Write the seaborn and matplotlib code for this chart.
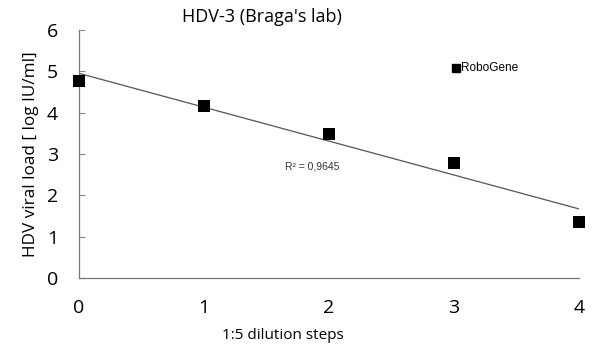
import matplotlib
matplotlib.use("Agg")
import matplotlib.pyplot as plt
import seaborn as sns
import numpy as np
import pandas as pd

steps = [0, 1, 2, 3, 4]
viral_load = [4.77, 4.16, 3.49, 2.78, 1.36]
x_ticks = [0, 1, 2, 3, 4]
y_ticks = [0, 1, 2, 3, 4, 5, 6]
series_name = "RoboGene"
r2_label = "R² = 0,9645"

sns.set_theme(style="white")
plt.rcParams['font.family'] = ['Open Sans', 'DejaVu Sans']
plt.rcParams['text.color'] = 'black'
plt.rcParams['axes.labelcolor'] = 'black'
plt.rcParams['xtick.color'] = 'black'
plt.rcParams['ytick.color'] = 'black'

df = pd.DataFrame({"step": steps, "load": viral_load})

fig = plt.figure(figsize=(6.05, 3.49), dpi=100)
ax = fig.add_axes([0.1306, 0.2034, 0.957 - 0.1306, 0.914 - 0.2034])

sns.regplot(data=df, x="step", y="load", ax=ax, ci=None, marker="s", color="black",
            scatter_kws=dict(s=75, clip_on=False, zorder=3, linewidths=0, alpha=1),
            line_kws=dict(color="#555555", lw=0.9), truncate=True)

ax.set_xlim(0, 4)
ax.set_ylim(0, 6)
ax.set_xticks(x_ticks)
ax.set_yticks(y_ticks)
ax.tick_params(axis='x', length=0, pad=15, labelsize=14)
ax.tick_params(axis='y', direction='in', length=4, width=0.8, color="#888888", pad=15, labelsize=14, left=True)
for s in ["top", "right"]:
    ax.spines[s].set_visible(False)
for s in ["left", "bottom"]:
    ax.spines[s].set_color("#777777")
    ax.spines[s].set_linewidth(0.9)

ax.set_xlabel("1:5 dilution steps", fontsize=11, labelpad=8, x=0.408)
ax.set_ylabel("HDV viral load [ log IU/ml]", fontsize=12.3, labelpad=6)
ax.set_title("HDV-3 (Braga's lab)", fontsize=13, pad=6, x=0.366)

ax.text(0.412, 0.448, r2_label, transform=ax.transAxes, fontsize=7.5,
        family=['Liberation Sans', 'DejaVu Sans'], color="#333333", va="center")

ax.scatter([], [], marker="s", s=30, color="black", label=series_name)
leg = ax.legend(loc="upper left", bbox_to_anchor=(0.72, 0.915), frameon=False,
                handletextpad=0.0, handlelength=1.0, prop=dict(family='Liberation Sans', size=8.5))

fig.savefig("out.png", dpi=100)
